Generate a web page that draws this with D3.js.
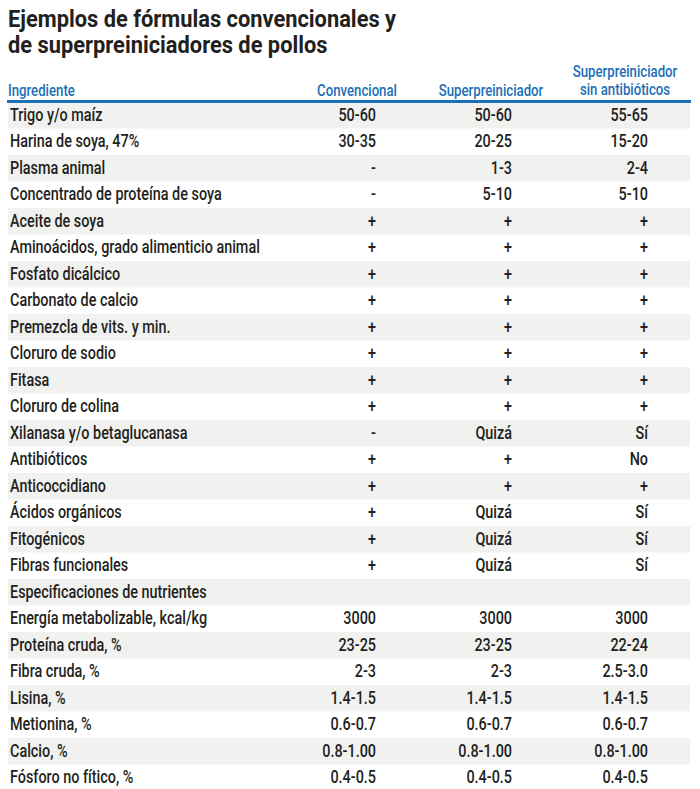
<!DOCTYPE html>
<html>
<head>
<meta charset="utf-8">
<script src="https://cdn.jsdelivr.net/npm/d3@7"></script>
<style>
  html, body { margin: 0; padding: 0; background: #ffffff; }
  svg { display: block; }
  text { font-family: "Roboto", "Liberation Sans", sans-serif; }
</style>
</head>
<body>
<svg id="chart" width="700" height="789"></svg>
<script>
const titleLines = ["Ejemplos de fórmulas convencionales y", "de superpreiniciadores de pollos"];
const headers = ["Ingrediente", "Convencional", "Superpreiniciador", ["Superpreiniciador", "sin antibióticos"]];

const ingredients = [
  "Trigo y/o maíz", "Harina de soya, 47%", "Plasma animal", "Concentrado de proteína de soya",
  "Aceite de soya", "Aminoácidos, grado alimenticio animal", "Fosfato dicálcico", "Carbonato de calcio",
  "Premezcla de vits. y min.", "Cloruro de sodio", "Fitasa", "Cloruro de colina",
  "Xilanasa y/o betaglucanasa", "Antibióticos", "Anticoccidiano", "Ácidos orgánicos",
  "Fitogénicos", "Fibras funcionales", "Especificaciones de nutrientes",
  "Energía metabolizable, kcal/kg", "Proteína cruda, %", "Fibra cruda, %", "Lisina, %",
  "Metionina, %", "Calcio, %", "Fósforo no fítico, %"
];
const convencional = ["50-60", "30-35", "-", "-", "+", "+", "+", "+", "+", "+", "+", "+", "-", "+", "+", "+", "+", "+", "",
  "3000", "23-25", "2-3", "1.4-1.5", "0.6-0.7", "0.8-1.00", "0.4-0.5"];
const superpre = ["50-60", "20-25", "1-3", "5-10", "+", "+", "+", "+", "+", "+", "+", "+", "Quizá", "+", "+", "Quizá", "Quizá", "Quizá", "",
  "3000", "23-25", "2-3", "1.4-1.5", "0.6-0.7", "0.8-1.00", "0.4-0.5"];
const superpreSinAb = ["55-65", "15-20", "2-4", "5-10", "+", "+", "+", "+", "+", "+", "+", "+", "Sí", "No", "+", "Sí", "Sí", "Sí", "",
  "3000", "22-24", "2.5-3.0", "1.4-1.5", "0.6-0.7", "0.8-1.00", "0.4-0.5"];

const svg = d3.select("#chart");
const textColor = "#231f20";
const blue = "#1c6fb6";
const stripe = "#f1f1ef";

// helper: condensed text (horizontal scale) placed at (x, y)
function cText(sel, opts) {
  const g = sel.append("g").attr("transform", `translate(${opts.x},${opts.y}) scale(${opts.sx},1)`);
  return g.append("text")
    .attr("text-anchor", opts.anchor || "start")
    .attr("font-size", opts.size)
    .attr("font-weight", opts.weight || "normal")
    .attr("fill", opts.fill)
    .text(opts.text);
}

// Title
titleLines.forEach((t, i) => cText(svg, { x: 8, y: 27 + i * 26, sx: 0.91, size: 24, weight: "bold", fill: textColor, text: t }));

const tableTop = 102, rowH = 26.5;
const y = d3.scaleBand().domain(d3.range(ingredients.length))
  .range([tableTop, tableTop + rowH * ingredients.length]).padding(0);

const colRight = [376, 512, 648];
const rows = ingredients.map((name, i) => ({ name, i, vals: [convencional[i], superpre[i], superpreSinAb[i]] }));

// stripes
svg.append("g").selectAll("rect").data(rows.filter(r => r.i % 2 === 0)).join("rect")
  .attr("x", 8).attr("width", 682)
  .attr("y", d => y(d.i)).attr("height", y.bandwidth())
  .attr("fill", stripe);

// header
const hs = { size: 16.5, weight: 500, fill: blue, sx: 0.8 };
cText(svg, { ...hs, x: 8, y: 96, text: headers[0] });
cText(svg, { ...hs, x: 357, y: 96, anchor: "middle", text: headers[1] });
cText(svg, { ...hs, x: 491, y: 96, anchor: "middle", text: headers[2] });
cText(svg, { ...hs, x: 625, y: 77, anchor: "middle", text: headers[3][0] });
cText(svg, { ...hs, x: 625, y: 95, anchor: "middle", text: headers[3][1] });

svg.append("rect").attr("x", 7).attr("y", 100).attr("width", 684).attr("height", 3).attr("fill", blue);

// rows
const bs = { size: 18, weight: 500, fill: textColor, sx: 0.8 };
rows.forEach(r => {
  const by = y(r.i) + 18.5;
  cText(svg, { ...bs, x: 10, y: by, text: r.name });
  r.vals.forEach((v, j) => {
    if (v) cText(svg, { ...bs, x: colRight[j], y: by, anchor: "end", text: v });
  });
});
</script>
</body>
</html>
